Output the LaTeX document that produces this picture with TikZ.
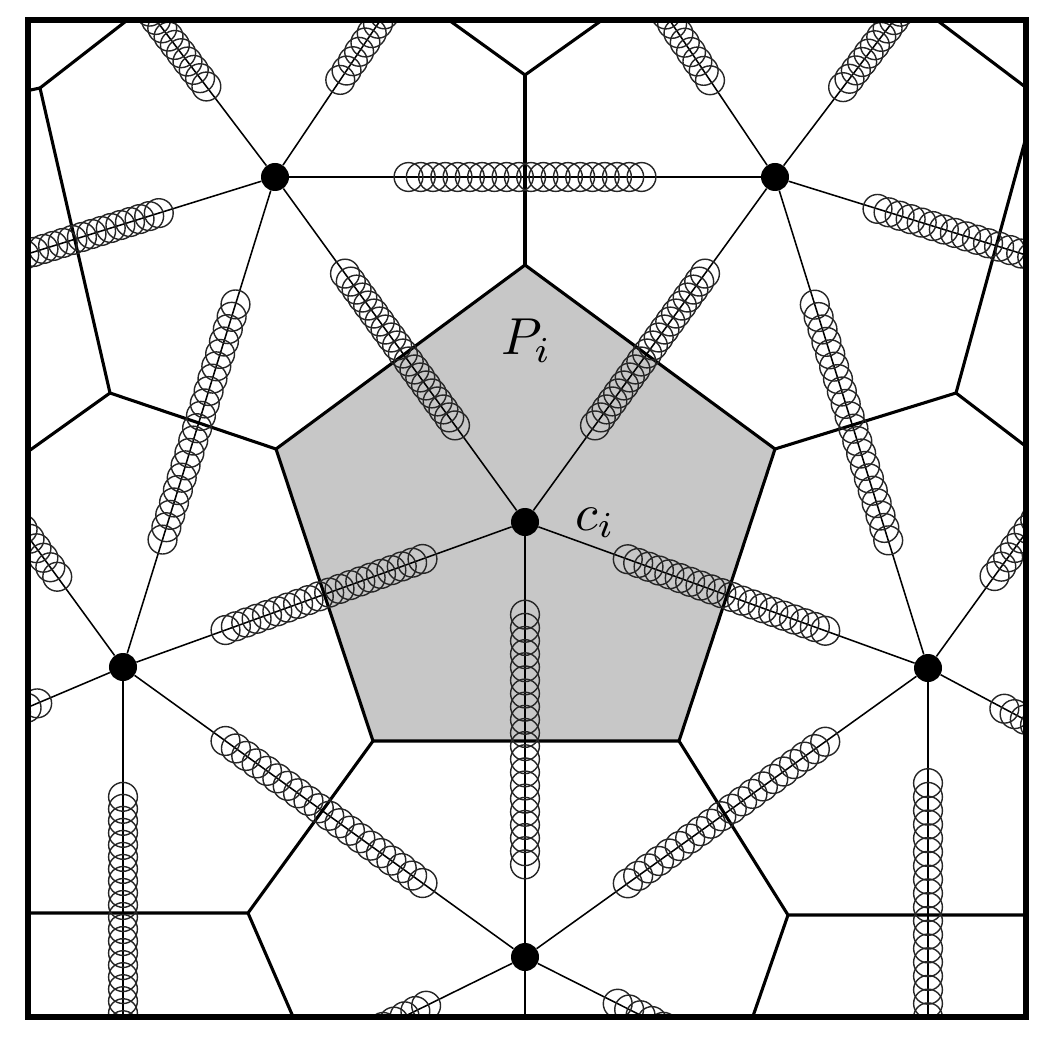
\documentclass[tikz,border=0pt]{standalone}
\usepackage{tikz}
\usetikzlibrary{calc}
\tikzset{
  site/.style  ={circle,fill=black,inner sep=0pt,minimum size=7mm},
  link/.style  ={draw=black,line width=1.1pt},
  cell/.style  ={draw=black,line width=2.2pt,line join=round},
  bead/.style  ={draw=black!85,line width=1pt},
  frame/.style ={draw=black,line width=3.6pt},
  lbl/.style   ={scale=3.7,inner sep=0pt},
}
\begin{document}
\begin{tikzpicture}[x=0.025cm,y=-0.025cm]
\useasboundingbox (0,0) rectangle (1043,1062);
\begin{scope}
\clip (28,20) rectangle (1026,1017);
%======================= CELL P_i ==============================
\coordinate (vt)  at (525,265);
\coordinate (vul) at (276,449);
\coordinate (vur) at (775,449);
\coordinate (vll) at (373,741);
\coordinate (vlr) at (679,741);
\draw[cell,fill=black!22] (vt) -- (vur) -- (vlr) -- (vll) -- (vul) -- cycle;
%======================= OTHER CELL EDGES ======================
\draw[cell] (vt) -- (525,75) coordinate (w1);
\draw[cell] (446,18) -- (w1) -- (605,18);
\draw[cell] (vul) -- (110,393) coordinate (w2) -- (26,453);
\draw[cell] (w2) -- (40,88) coordinate (w3) -- (130,18);
\draw[cell] (w3) -- (26,91);
\draw[cell] (vur) -- (956,393) coordinate (w4) -- (1028,448);
\draw[cell] (w4) -- (1028,130);
\draw[cell] (934,18) -- (1028,89);
\draw[cell] (vll) -- (248,913) coordinate (w5) -- (26,913);
\draw[cell] (w5) -- (294,1019);
\draw[cell] (vlr) -- (788,915) coordinate (w6) -- (1028,915);
\draw[cell] (w6) -- (752,1019);
%======================= SITES =================================
\node[site] (c0) at (525,522) {};
\node[site] (r1) at (275,177) {};
\node[site] (r2) at (775,177) {};
\node[site] (r3) at (928,668) {};
\node[site] (r4) at (525,957) {};
\node[site] (r5) at (123,667) {};
\coordinate (o1)  at (525,-195);
\coordinate (o2)  at (18,-162);
\coordinate (o3)  at (1032,-162);
\coordinate (o4)  at (-140,306);
\coordinate (o5)  at (1190,306);
\coordinate (o6)  at (-250,825);
\coordinate (o7)  at (1275,853);
\coordinate (o8)  at (123,1155);
\coordinate (o9)  at (928,1160);
\coordinate (o10) at (525,1400);
%======================= LINKS =================================
\foreach \a/\b in {c0/r1,c0/r2,c0/r3,c0/r4,c0/r5,r1/r2,r1/r5,r2/r3,r5/r4,r3/r4,
                   r1/o1,r1/o2,r1/o4,r2/o1,r2/o3,r2/o5,r5/o4,r5/o6,r5/o8,
                   r3/o5,r3/o7,r3/o9,r4/o8,r4/o9,r4/o10}
  \draw[link] (\a) -- (\b);
%======================= BEADS =================================
\foreach \a/\b/\hw in {c0/r1/0.22,c0/r2/0.22,c0/r5/0.245,c0/r3/0.245,c0/r4/0.287,
                      r1/r2/0.233,r1/r5/0.24,r2/r3/0.24,r5/r4/0.245,r3/r4/0.245,
                      r1/o1/0.239,r1/o2/0.233,r1/o4/0.22,r2/o1/0.24,r2/o3/0.235,
                      r2/o5/0.253,r5/o4/0.25,r5/o6/0.27,r5/o8/0.234,r3/o5/0.246,
                      r3/o7/0.28,r3/o9/0.266,r4/o8/0.254,r4/o9/0.27}{
  \foreach \k in {0,...,19}{
    \pgfmathsetmacro\tbead{0.5-\hw+\k*\hw/9.5}
    \draw[bead] ($(\a)!\tbead!(\b)$) circle (3.6mm);
  }
}
\end{scope}
%======================= LABELS ================================
\node[lbl,anchor=base west] (pl) at (500,355) {$P_{i}$};
\node[lbl,anchor=base west] (cl) at (574,530) {$c_{i}$};
\draw[frame] (28,20) rectangle (1026,1017);
\end{tikzpicture}
\end{document}
